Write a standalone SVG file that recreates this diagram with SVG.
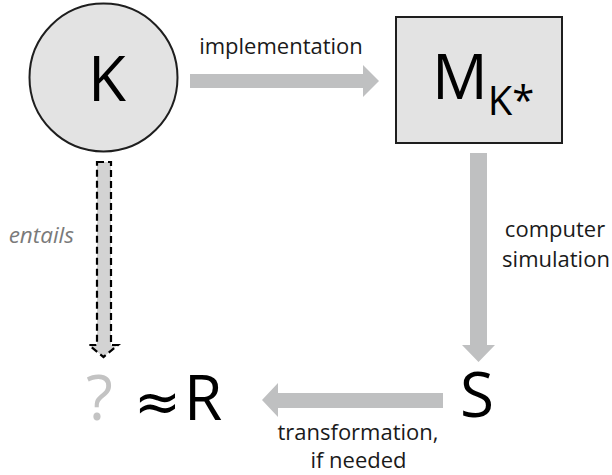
<svg xmlns="http://www.w3.org/2000/svg" width="612" height="475" viewBox="0 0 612 475">
  <style>
    .lbl { font-family: "Open Sans", "Liberation Sans", sans-serif; font-size: 22px; fill: #1a1a1a; }
    .big { font-family: "Open Sans", "Liberation Sans", sans-serif; font-size: 62px; fill: #000; }
    .arrow { fill: #bfc0c1; stroke: none; }
    .node { fill: #e3e3e3; stroke: #1e1e1e; stroke-width: 2; }
  </style>
  <rect width="612" height="475" fill="#fff"/>
  <g id="connectors">
    <g id="implementation-arrow">
      <polygon class="arrow" points="190,74 363,74 363,65 379,81 363,97 363,88 190,88"/>
      <text class="lbl" x="281" y="54" text-anchor="middle">implementation</text>
    </g>
    <g id="simulation-arrow">
      <polygon class="arrow" points="470,153 487,153 487,345 495,345 478.5,362 462,345 470,345"/>
      <text class="lbl" x="555" y="237" text-anchor="middle">computer</text>
      <text class="lbl" x="556" y="267" text-anchor="middle">simulation</text>
    </g>
    <g id="transformation-arrow">
      <polygon class="arrow" points="443,393 278,393 278,383 262,400 278,417 278,408 443,408"/>
      <text class="lbl" x="358" y="440" text-anchor="middle">transformation,</text>
      <text class="lbl" x="358.5" y="468" text-anchor="middle">if needed</text>
    </g>
    <g id="entails-arrow">
      <polygon points="97,162 111,162 111,345 118,345 103.5,357 89,345 97,345" fill="#d3d3d3" stroke="#000" stroke-width="2.2" stroke-dasharray="7,4"/>
      <text x="74" y="243" text-anchor="end" font-family="Open Sans, Liberation Sans, sans-serif" font-size="22.5" font-style="italic" fill="#7a7a7a">entails</text>
    </g>
  </g>
  <g id="node-K">
    <circle class="node" cx="103.5" cy="77.5" r="74" stroke-width="1.6"/>
    <text class="big" x="107" y="101" text-anchor="middle">K</text>
  </g>
  <g id="node-M">
    <rect class="node" x="396" y="17" width="166" height="126"/>
    <text class="big" x="432" y="99">M<tspan font-size="40" dy="16">K*</tspan></text>
  </g>
  <g id="node-S">
    <text class="big" x="460" y="417">S</text>
  </g>
  <g id="node-R">
    <text class="big" x="86" y="420" style="fill:#c3c3c3">?</text>
    <text x="134" y="421" style="font-family:'DejaVu Sans',sans-serif;font-size:56px;fill:#000">≈</text>
    <text class="big" x="184" y="420">R</text>
  </g>
</svg>
